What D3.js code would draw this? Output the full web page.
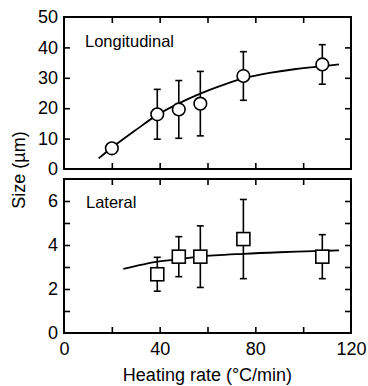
<!DOCTYPE html>
<html>
<head>
<meta charset="utf-8">
<script src="https://cdn.jsdelivr.net/npm/d3@7/dist/d3.min.js"></script>
<style>
  html, body { margin: 0; padding: 0; background: #fff; }
  svg text { font-family: "Liberation Sans", Arial, Helvetica, sans-serif; fill: #000; }
</style>
</head>
<body>
<svg id="chart" width="368" height="386"></svg>
<script>
// ---- Data ----
const longRate = [20, 39, 48, 57, 75, 108];
const longSize = [6.8, 18.0, 19.6, 21.5, 30.6, 34.4];
const longErr  = [0, 8.2, 9.5, 10.6, 8.0, 6.5];

const latRate = [39, 48, 57, 75, 108];
const latSize = [2.67, 3.47, 3.47, 4.27, 3.47];
const latErr  = [0.77, 0.91, 1.4, 1.8, 1.0];

const longFitX = [14.5, 20, 30, 39, 48, 57, 66, 75, 86, 97, 108, 115];
const longFitY = [3.5, 7.0, 12.8, 17.8, 21.6, 24.8, 27.5, 29.8, 31.6, 32.9, 33.8, 34.4];

const latFitX = [24.8, 39, 48, 57, 75, 90, 108, 115];
const latFitY = [2.91, 3.24, 3.35, 3.48, 3.60, 3.67, 3.73, 3.76];

const xTicks = [0, 20, 40, 60, 80, 100, 120];
const xLabels = [0, 40, 80, 120];
const longTicks = [0, 10, 20, 30, 40, 50];
const latTicks = [0, 1, 2, 3, 4, 5, 6, 7];
const latLabels = [0, 2, 4, 6];

// ---- Layout ----
const svg = d3.select("#chart");
const L = 64, R = 351;
const top1 = 17, bot1 = 169;
const top2 = 179, bot2 = 333;
const tickLen = 6;

const x = d3.scaleLinear().domain([0, 120]).range([L, R]);
const y1 = d3.scaleLinear().domain([0, 50]).range([bot1, top1]);
const y2 = d3.scaleLinear().domain([0, 7]).range([bot2, top2]);

function styleAxis(g, fs) {
  g.select(".domain").remove();
  g.selectAll(".tick line").attr("stroke", "#000").attr("stroke-width", 1.6);
  g.selectAll(".tick text").style("font-size", fs + "px");
}

function panel(y, yTicks, yLabels, topY, botY) {
  const inner = yTicks.filter(v => v !== y.domain()[0] && v !== y.domain()[1]);
  const innerX = xTicks.filter(v => v !== 0 && v !== 120);
  // left
  svg.append("g").attr("transform", `translate(${L},0)`)
    .call(d3.axisLeft(y).tickValues(yTicks).tickSize(-tickLen).tickPadding(6)
      .tickFormat(v => yLabels.includes(v) ? d3.format("d")(v) : ""))
    .call(g => styleAxis(g, 18))
    .call(g => g.selectAll(".tick line").filter(v => !inner.includes(v)).remove());
  // right
  svg.append("g").attr("transform", `translate(${R},0)`)
    .call(d3.axisRight(y).tickValues(inner).tickSize(-tickLen).tickFormat(""))
    .call(g => styleAxis(g, 18));
  // top
  svg.append("g").attr("transform", `translate(0,${topY})`)
    .call(d3.axisTop(x).tickValues(innerX).tickSize(-tickLen).tickFormat(""))
    .call(g => styleAxis(g, 18));
  // bottom
  svg.append("g").attr("transform", `translate(0,${botY})`)
    .call(d3.axisBottom(x).tickValues(innerX).tickSize(-tickLen).tickFormat(""))
    .call(g => styleAxis(g, 18));
  // frame
  svg.append("rect").attr("x", L).attr("y", topY)
    .attr("width", R - L).attr("height", botY - topY)
    .attr("fill", "none").attr("stroke", "#000").attr("stroke-width", 2);
}

panel(y1, longTicks, longTicks, top1, bot1);
panel(y2, latTicks, latLabels, top2, bot2);

// x tick labels on bottom panel
svg.append("g").attr("transform", `translate(0,${bot2})`)
  .call(d3.axisBottom(x).tickValues(xLabels).tickSize(0).tickPadding(9).tickFormat(d3.format("d")))
  .call(g => styleAxis(g, 18));

// ---- Fit curves ----
const lineGen = (yS) => d3.line().x(d => x(d[0])).y(d => yS(d[1])).curve(d3.curveCatmullRom);
svg.append("path").datum(longFitX.map((v, i) => [v, longFitY[i]]))
  .attr("d", lineGen(y1)).attr("fill", "none").attr("stroke", "#000").attr("stroke-width", 1.8);
svg.append("path").datum(latFitX.map((v, i) => [v, latFitY[i]]))
  .attr("d", lineGen(y2)).attr("fill", "none").attr("stroke", "#000").attr("stroke-width", 1.8);

// ---- Error bars ----
function errBars(xs, ys, es, yS) {
  const g = svg.append("g").attr("stroke", "#000").attr("stroke-width", 1.6);
  xs.forEach((xv, i) => {
    if (!es[i]) return;
    const cx = x(xv), t = yS(ys[i] + es[i]), b = yS(ys[i] - es[i]);
    g.append("line").attr("x1", cx).attr("x2", cx).attr("y1", t).attr("y2", b);
    g.append("line").attr("x1", cx - 3.5).attr("x2", cx + 3.5).attr("y1", t).attr("y2", t);
    g.append("line").attr("x1", cx - 3.5).attr("x2", cx + 3.5).attr("y1", b).attr("y2", b);
  });
}
errBars(longRate, longSize, longErr, y1);
errBars(latRate, latSize, latErr, y2);

// ---- Markers ----
svg.append("g").selectAll("circle").data(longRate).join("circle")
  .attr("cx", d => x(d)).attr("cy", (d, i) => y1(longSize[i])).attr("r", 6.3)
  .attr("fill", "#fff").attr("stroke", "#000").attr("stroke-width", 1.6);

const sq = 13;
svg.append("g").selectAll("rect").data(latRate).join("rect")
  .attr("x", d => x(d) - sq / 2).attr("y", (d, i) => y2(latSize[i]) - sq / 2)
  .attr("width", sq).attr("height", sq)
  .attr("fill", "#fff").attr("stroke", "#000").attr("stroke-width", 1.6);

// ---- Labels ----
svg.append("text").attr("x", 85).attr("y", 47).style("font-size", "16.5px").text("Longitudinal");
svg.append("text").attr("x", 86).attr("y", 208).style("font-size", "16.5px").text("Lateral");

svg.append("text").attr("x", (L + R) / 2).attr("y", 381).attr("text-anchor", "middle")
  .style("font-size", "18px").text("Heating rate (°C/min)");
svg.append("text").attr("transform", "translate(25,170) rotate(-90)").attr("text-anchor", "middle")
  .style("font-size", "18px").text("Size (µm)");
</script>
</body>
</html>
